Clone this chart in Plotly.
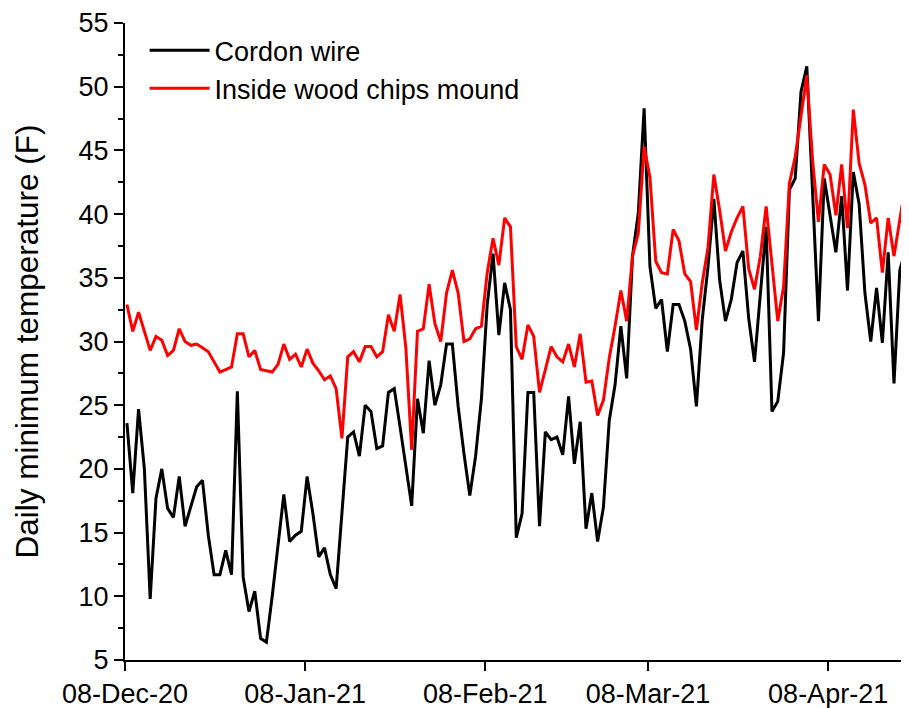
import pandas as pd
import plotly.graph_objects as go

start_date = "2020-12-08"

cordon_wire = [
    23.6, 18.1, 24.7, 20.0, 9.8, 17.7, 20.0, 16.9, 16.2, 19.4,
    15.5, 17.0, 18.6, 19.1, 14.8, 11.7, 11.7, 13.6, 11.7, 26.1,
    11.5, 8.8, 10.4, 6.7, 6.4, 10.0, 13.9, 18.0, 14.3, 14.8,
    15.1, 19.4, 16.5, 13.1, 13.8, 11.7, 10.6, 16.8, 22.5, 22.9,
    21.0, 25.0, 24.5, 21.6, 21.8, 26.0, 26.3, 23.3, 20.3, 17.1,
    25.5, 22.8, 28.5, 25.0, 26.6, 29.8, 29.8, 24.9, 21.2, 17.9,
    21.0, 25.5, 32.9, 36.9, 30.5, 34.6, 32.5, 14.6, 16.5, 26.0,
    26.0, 15.5, 22.9, 22.3, 22.5, 21.1, 25.7, 20.4, 23.7, 15.3,
    18.1, 14.3, 17.0, 23.8, 26.6, 31.2, 27.1, 36.7, 40.1, 48.3,
    35.9, 32.6, 33.3, 29.2, 32.9, 32.9, 31.6, 29.4, 24.9, 31.7,
    35.9, 41.2, 34.8, 31.6, 33.3, 36.2, 37.1, 31.8, 28.4, 34.0,
    39.0, 24.5, 25.3, 29.1, 41.9, 42.8, 49.6, 51.6, 41.4, 31.6,
    42.8, 39.9, 37.0, 41.4, 34.0, 43.3, 40.8, 33.8, 30.0, 34.2,
    29.9, 37.0, 26.7, 35.6, 37.2, 40.0,
]

wood_chips = [
    32.9, 30.8, 32.3, 30.8, 29.3, 30.4, 30.1, 28.9, 29.3, 31.0,
    30.0, 29.7, 29.8, 29.5, 29.2, 28.4, 27.6, 27.8, 28.0, 30.6,
    30.6, 28.8, 29.3, 27.8, 27.7, 27.6, 28.2, 29.8, 28.6, 29.0,
    28.0, 29.4, 28.3, 27.7, 27.0, 27.3, 26.3, 22.4, 28.8, 29.2,
    28.4, 29.6, 29.6, 28.8, 29.2, 32.1, 30.8, 33.7, 29.5, 21.5,
    30.8, 31.0, 34.5, 31.4, 30.0, 33.8, 35.6, 33.8, 30.0, 30.2,
    31.0, 31.2, 35.4, 38.1, 36.0, 39.7, 39.0, 29.6, 28.6, 31.3,
    30.4, 26.0, 27.8, 29.6, 28.8, 28.4, 29.8, 28.0, 30.6, 26.8,
    26.9, 24.2, 25.4, 28.7, 31.2, 34.0, 31.6, 36.7, 38.5, 45.3,
    42.9, 36.3, 35.4, 35.3, 38.8, 37.9, 35.3, 34.7, 30.9, 34.6,
    37.4, 43.1, 40.3, 37.1, 38.6, 39.7, 40.6, 35.7, 34.1, 36.7,
    40.6, 36.3, 31.6, 34.3, 42.4, 44.5, 47.6, 50.9, 44.2, 39.4,
    43.9, 43.1, 39.9, 43.9, 38.9, 48.2, 44.0, 42.3, 39.3, 39.7,
    35.4, 39.7, 36.7, 39.5, 42.4, 43.5,
]

dates = pd.date_range(start_date, periods=len(cordon_wire), freq="D") + pd.Timedelta(hours=8)

tick_dates = ["2020-12-08", "2021-01-08", "2021-02-08", "2021-03-08", "2021-04-08"]
tick_labels = ["08-Dec-20", "08-Jan-21", "08-Feb-21", "08-Mar-21", "08-Apr-21"]

series_names = ["Cordon wire", "Inside wood chips mound"]
series_colors = ["#000000", "#ff0000"]

fig = go.Figure()
for i, (name, vals, col) in enumerate(zip(series_names, [cordon_wire, wood_chips], series_colors)):
    fig.add_trace(go.Scatter(
        x=dates, y=vals, mode="lines", name=name,
        line=dict(color=col, width=3),
        legendgroup=f"g{i}",
    ))

font_family = "Liberation Sans, Arial, sans-serif"

# the page body adds an 8px offset, so the figure is sized to fill the 909x708 window
fig.update_layout(
    width=901, height=700,
    margin=dict(l=117, r=0, t=15, b=48),
    paper_bgcolor="white", plot_bgcolor="white",
    font=dict(family=font_family, color="black", size=27),
    showlegend=True,
    legend=dict(
        x=0.025, y=0.995, xanchor="left", yanchor="top",
        bgcolor="rgba(0,0,0,0)", borderwidth=0,
        font=dict(size=27, family=font_family, color="black"),
        tracegroupgap=0, itemwidth=60,
    ),
)

fig.update_xaxes(
    type="date", automargin=False,
    range=["2020-12-08", "2021-04-21 22:00"],
    tickvals=tick_dates, ticktext=tick_labels,
    showgrid=False, zeroline=False,
    showline=True, linecolor="black", linewidth=2,
    ticks="outside", ticklen=9, tickwidth=2, tickcolor="black",
    tickfont=dict(size=27, family=font_family, color="black"),
)

fig.update_yaxes(
    automargin=False,
    range=[5, 55],
    tick0=5, dtick=5,
    showgrid=False, zeroline=False,
    showline=True, linecolor="black", linewidth=2,
    ticks="outside", ticklen=9, tickwidth=2, tickcolor="black",
    tickfont=dict(size=27, family=font_family, color="black"),
    minor=dict(ticks="outside", ticklen=5, tickwidth=2, tickcolor="black", dtick=2.5, tick0=5, showgrid=False),
    title=dict(text="Daily minimum temperature (F)", font=dict(size=31.5, family=font_family, color="black"), standoff=31),
)

fig.write_html("out.html")
